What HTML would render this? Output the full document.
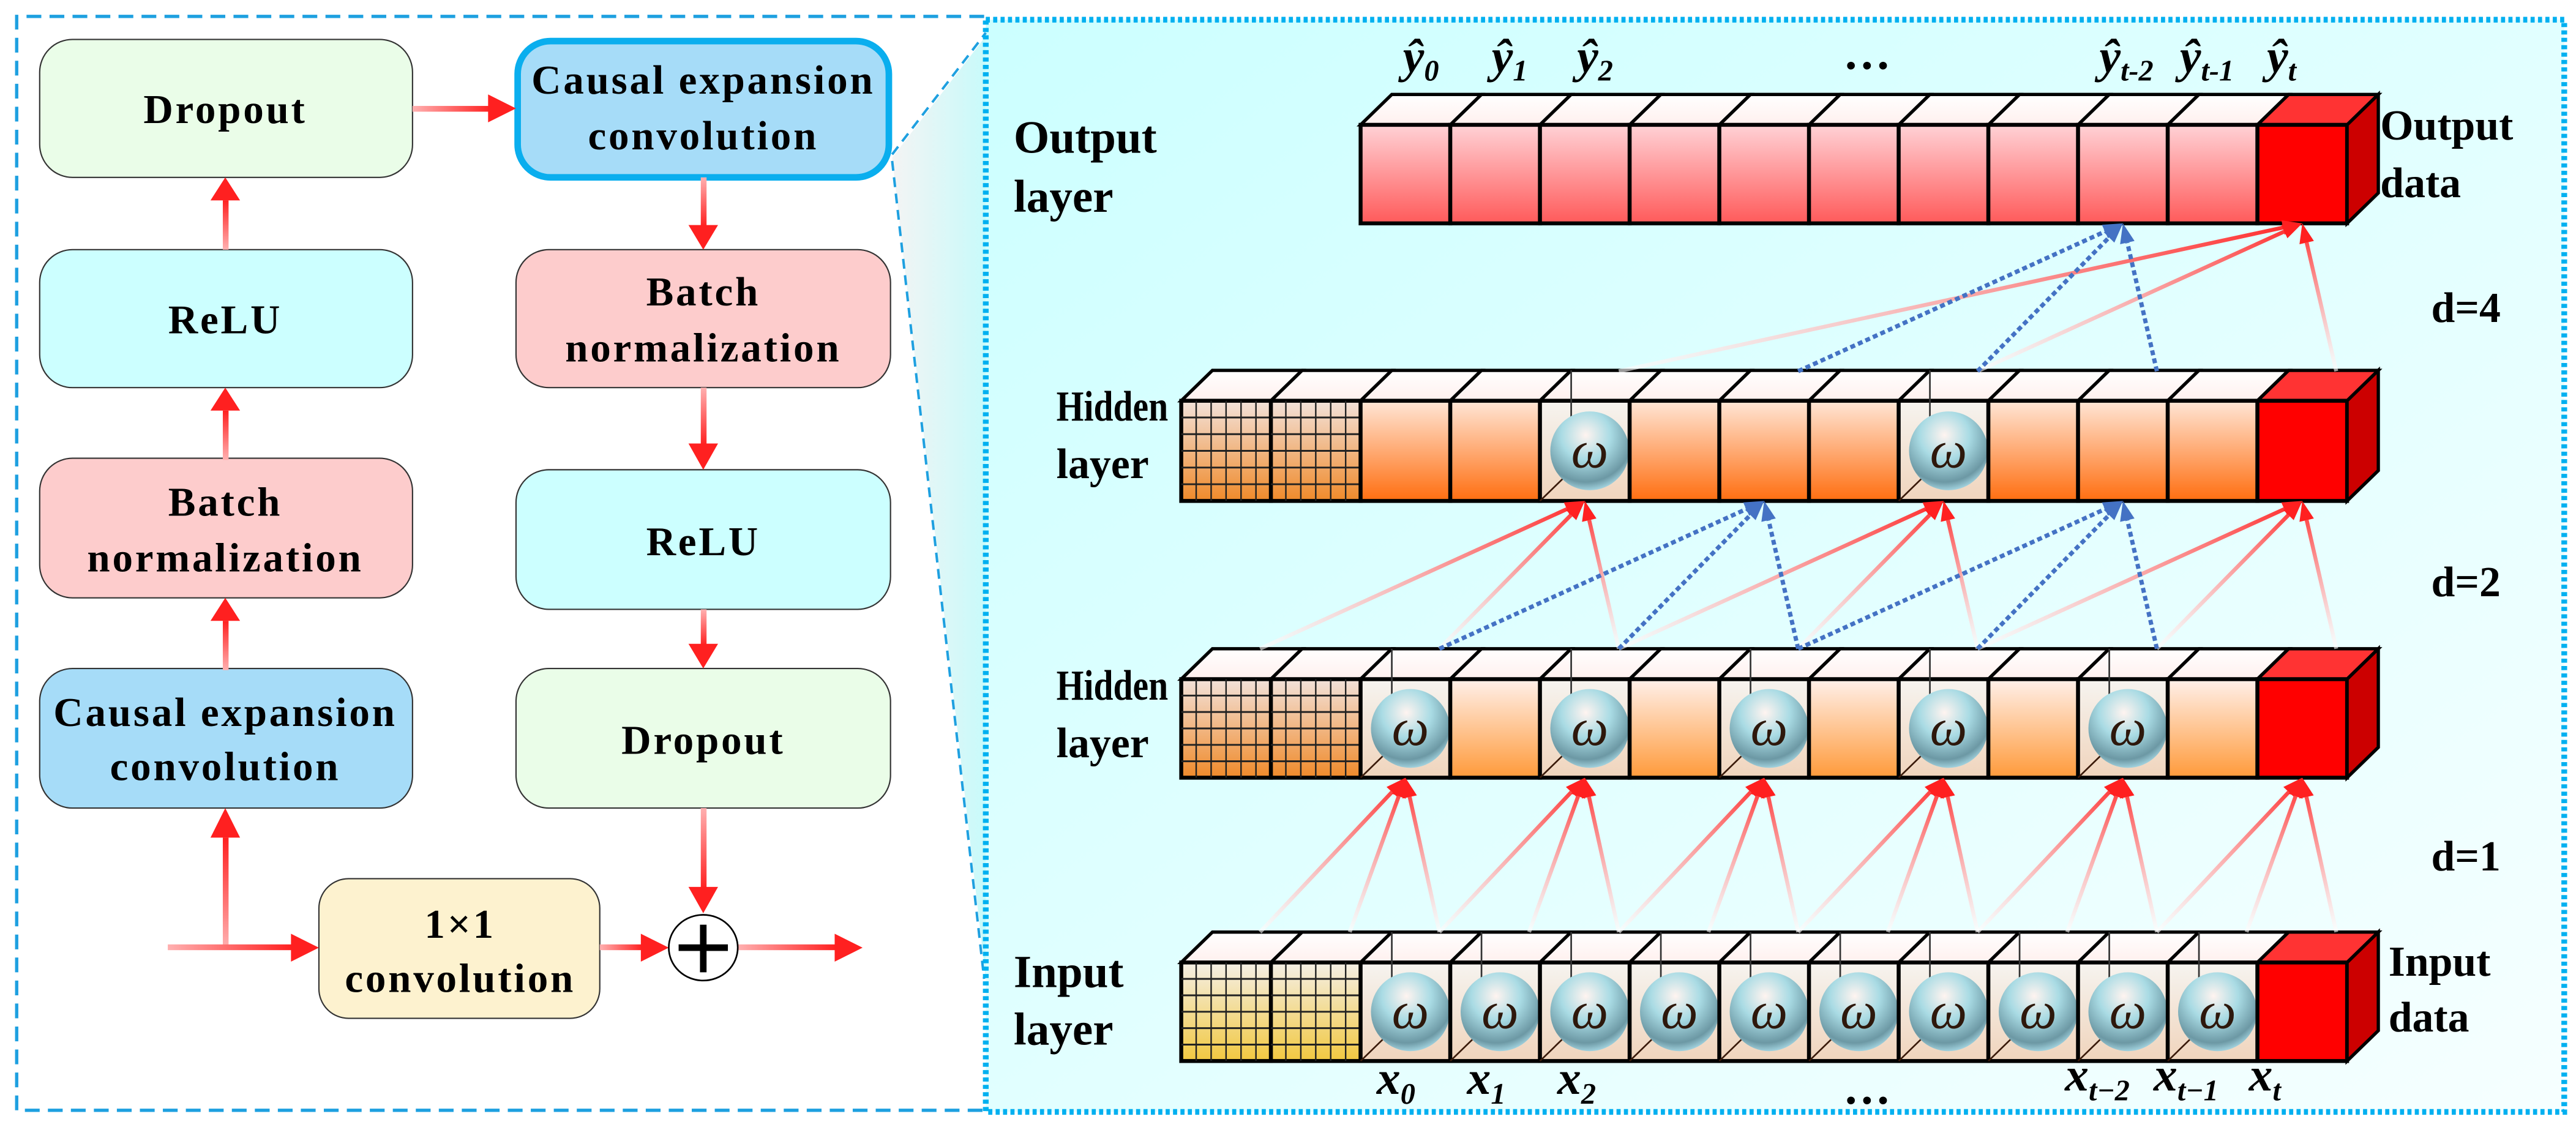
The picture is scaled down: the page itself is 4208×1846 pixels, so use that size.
<!DOCTYPE html>
<html><head><meta charset="utf-8"><style>
html,body{margin:0;padding:0;background:#fff;}
svg{display:block;}
.bx{font-family:"Liberation Serif",serif;font-weight:bold;font-size:25px;letter-spacing:1.4px;text-anchor:middle;fill:#000;}
.lb{font-family:"Liberation Serif",serif;font-weight:bold;font-size:26px;fill:#000;}
.mt{font-family:"Liberation Serif",serif;font-weight:bold;font-style:italic;font-size:29px;fill:#000;}
.sb{font-family:"Liberation Serif",serif;font-weight:bold;font-style:italic;font-size:18px;}
</style></head><body>
<svg id="s" width="4208" height="1846" viewBox="0 0 1568 688" xmlns="http://www.w3.org/2000/svg">
<defs>
<linearGradient id="rbg" x1="0" y1="0" x2="1" y2="1"><stop offset="0" stop-color="#ccffff"/><stop offset="1" stop-color="#f6ffff"/></linearGradient>
<linearGradient id="cone" x1="0" y1="0" x2="1" y2="0"><stop offset="0" stop-color="#f4f4f4"/><stop offset="1" stop-color="#c8fafa"/></linearGradient>
<linearGradient id="gOut" x1="0" y1="0" x2="0" y2="1"><stop offset="0" stop-color="#ffd2d6"/><stop offset="1" stop-color="#ff5a5a"/></linearGradient>
<linearGradient id="gH1" x1="0" y1="0" x2="0" y2="1"><stop offset="0" stop-color="#ffe6d6"/><stop offset="1" stop-color="#ff6e10"/></linearGradient>
<linearGradient id="gH2" x1="0" y1="0" x2="0" y2="1"><stop offset="0" stop-color="#fff0ea"/><stop offset="1" stop-color="#ff9a3a"/></linearGradient>
<linearGradient id="gIn" x1="0" y1="0" x2="0" y2="1"><stop offset="0" stop-color="#f6f4f0"/><stop offset="1" stop-color="#f0d4bc"/></linearGradient>
<linearGradient id="gGH" x1="0" y1="0" x2="0" y2="1"><stop offset="0" stop-color="#f2e2da"/><stop offset="1" stop-color="#f08a2a"/></linearGradient>
<linearGradient id="gGI" x1="0" y1="0" x2="0" y2="1"><stop offset="0" stop-color="#f4efe6"/><stop offset="1" stop-color="#f2c840"/></linearGradient>
<linearGradient id="gTop" x1="0" y1="0" x2="0" y2="1"><stop offset="0" stop-color="#ffffff"/><stop offset="1" stop-color="#fff0ee"/></linearGradient>
<radialGradient id="sph" cx="0.45" cy="0.3" r="0.7"><stop offset="0" stop-color="#fff4f0"/><stop offset="0.45" stop-color="#a9dbe4"/><stop offset="0.85" stop-color="#6c98a4"/><stop offset="1" stop-color="#a0d0dc"/></radialGradient>
<linearGradient id="ah" x1="0" y1="0" x2="1" y2="0"><stop offset="0" stop-color="#ffb0b0"/><stop offset="1" stop-color="#ff2020"/></linearGradient>
<linearGradient id="av" x1="0" y1="1" x2="0" y2="0"><stop offset="0" stop-color="#ffb0b0"/><stop offset="1" stop-color="#ff2020"/></linearGradient>
<linearGradient id="avd" x1="0" y1="0" x2="0" y2="1"><stop offset="0" stop-color="#ffb0b0"/><stop offset="1" stop-color="#ff2020"/></linearGradient>
</defs>
<rect width="1568" height="688" fill="#fff"/>
<rect x="600" y="12" width="961" height="665" fill="url(#rbg)"/>
<polygon points="543,96 600,22 600,596" fill="url(#cone)"/>
<line x1="543" y1="94" x2="600" y2="20" stroke="#1ea0e0" stroke-width="1.5" stroke-dasharray="6,4"/>
<line x1="543" y1="98" x2="599" y2="596" stroke="#1ea0e0" stroke-width="1.5" stroke-dasharray="6,4"/>
<path d="M599,10 H10 V676 H599" fill="none" stroke="#1ea0e0" stroke-width="2" stroke-dasharray="9,5"/>
<rect x="600" y="12" width="961" height="665" fill="none" stroke="#00b0f0" stroke-width="3.5" stroke-dasharray="2.5,2"/>

<g stroke="#333" stroke-width="0.8">
<rect x="24" y="24" width="227" height="84" rx="20" fill="#eafde8"/>
<rect x="24" y="152" width="227" height="84" rx="20" fill="#ccffff"/>
<rect x="24" y="279" width="227" height="85" rx="20" fill="#fdcccc"/>
<rect x="24" y="407" width="227" height="85" rx="20" fill="#a6dcf8"/>
<rect x="314" y="152" width="228" height="84" rx="20" fill="#fdcccc"/>
<rect x="314" y="286" width="228" height="85" rx="20" fill="#ccffff"/>
<rect x="314" y="407" width="228" height="85" rx="20" fill="#eafde8"/>
<rect x="194" y="535" width="171" height="85" rx="18" fill="#fdf2cf"/>
</g>
<rect x="315" y="25" width="226" height="83" rx="20" fill="#a6dcf8" stroke="#0aaeee" stroke-width="4"/>
<text class="bx" x="137" y="75">Dropout</text>
<text class="bx" x="137" y="203">ReLU</text>
<text class="bx" x="137" y="314">Batch</text>
<text class="bx" x="137" y="348">normalization</text>
<text class="bx" x="137" y="442">Causal expansion</text>
<text class="bx" x="137" y="475">convolution</text>
<text class="bx" x="428" y="57">Causal expansion</text>
<text class="bx" x="428" y="91">convolution</text>
<text class="bx" x="428" y="186">Batch</text>
<text class="bx" x="428" y="220">normalization</text>
<text class="bx" x="428" y="338">ReLU</text>
<text class="bx" x="428" y="459">Dropout</text>
<text class="bx" x="280" y="571">1×1</text>
<text class="bx" x="280" y="604">convolution</text>
<g>
<rect x="135.5" y="122" width="3.5" height="30" fill="url(#av)"/><polygon points="137,108 128,122 146,122" fill="#ff2020"/>
<rect x="135.5" y="250" width="3.5" height="30" fill="url(#av)"/><polygon points="137,236 128,250 146,250" fill="#ff2020"/>
<rect x="135.5" y="378" width="3.5" height="30" fill="url(#av)"/><polygon points="137,364 128,378 146,378" fill="#ff2020"/>
<rect x="135.5" y="510" width="3.5" height="67" fill="url(#av)"/><polygon points="137,492 128,510 146,510" fill="#ff2020"/>
<rect x="102" y="575" width="76" height="3.5" fill="url(#ah)"/><polygon points="194,577 177,568.5 177,585.5" fill="#ff2020"/>
<rect x="251" y="64.5" width="48" height="3.5" fill="url(#ah)"/><polygon points="314,66 297,57.5 297,74.5" fill="#ff2020"/>
<rect x="426.5" y="108" width="3.5" height="30" fill="url(#avd)"/><polygon points="428,152 419,137 437,137" fill="#ff2020"/>
<rect x="426.5" y="236" width="3.5" height="35" fill="url(#avd)"/><polygon points="428,286 419,270 437,270" fill="#ff2020"/>
<rect x="426.5" y="371" width="3.5" height="22" fill="url(#avd)"/><polygon points="428,407 419,392 437,392" fill="#ff2020"/>
<rect x="426.5" y="492" width="3.5" height="50" fill="url(#avd)"/><polygon points="428,556 419,540 437,540" fill="#ff2020"/>
<rect x="365" y="575" width="26" height="3.5" fill="url(#ah)"/><polygon points="407,577 390,568.5 390,585.5" fill="#ff2020"/>
<rect x="449" y="575" width="60" height="3.5" fill="url(#ah)"/><polygon points="525,577 508,568.5 508,585.5" fill="#ff2020"/>
</g>
<ellipse cx="428" cy="577" rx="21" ry="20" fill="#fff" stroke="#000" stroke-width="1"/>
<path d="M428,563 V592 M413,577 H443" stroke="#000" stroke-width="4"/>

<g id="net"></g>

<text class="lb" x="617" y="93" style="font-size:28px">Output</text>
<text class="lb" x="617" y="129" style="font-size:28px">layer</text>
<text class="lb" x="643" y="256" textLength="68" lengthAdjust="spacingAndGlyphs">Hidden</text>
<text class="lb" x="643" y="291">layer</text>
<text class="lb" x="643" y="426" textLength="68" lengthAdjust="spacingAndGlyphs">Hidden</text>
<text class="lb" x="643" y="461">layer</text>
<text class="lb" x="617" y="601" style="font-size:28px">Input</text>
<text class="lb" x="617" y="636" style="font-size:28px">layer</text>
<text class="lb" x="1449" y="85">Output</text>
<text class="lb" x="1449" y="120">data</text>
<text class="lb" x="1454" y="594">Input</text>
<text class="lb" x="1454" y="628">data</text>
<text class="lb" x="1480" y="196">d=4</text>
<text class="lb" x="1480" y="363">d=2</text>
<text class="lb" x="1480" y="530">d=1</text>
<g class="mt">
<text x="854" y="44">ŷ<tspan class="sb" dy="5">0</tspan></text>
<text x="908" y="44">ŷ<tspan class="sb" dy="5">1</tspan></text>
<text x="960" y="44">ŷ<tspan class="sb" dy="5">2</tspan></text>
<text x="1122" y="42" style="font-style:normal">…</text>
<text x="1278" y="44">ŷ<tspan class="sb" dy="5">t-2</tspan></text>
<text x="1327" y="44">ŷ<tspan class="sb" dy="5">t-1</tspan></text>
<text x="1380" y="44">ŷ<tspan class="sb" dy="5">t</tspan></text>
<text x="838" y="666">x<tspan class="sb" dy="6">0</tspan></text>
<text x="893" y="666">x<tspan class="sb" dy="6">1</tspan></text>
<text x="948" y="666">x<tspan class="sb" dy="6">2</tspan></text>
<text x="1122" y="672" style="font-style:normal">…</text>
<text x="1257" y="664">x<tspan class="sb" dy="6">t−2</tspan></text>
<text x="1311" y="664">x<tspan class="sb" dy="6">t−1</tspan></text>
<text x="1369" y="664">x<tspan class="sb" dy="6">t</tspan></text>
</g>
</svg>
<script>
(function(){
var X0=719,W=54.6,DX=19,DY=18.5,gid=0;
function L(k){return X0+W*k;}
function cell(k,F,H,type,row){
 var x=L(k),s='';
 var top=(type=='red')?'#ff3333':'url(#gTop)';
 s+='<polygon points="'+x+','+F+' '+(x+DX)+','+(F-DY)+' '+(x+W+DX)+','+(F-DY)+' '+(x+W)+','+F+'" fill="'+top+'" stroke="#000" stroke-width="2"/>';
 var fill;
 if(type=='red')fill='#ff0000';
 else if(type=='grid')fill=(row=='in')?'url(#gGI)':'url(#gGH)';
 else if(type=='om')fill='url(#gIn)';
 else fill=(row=='out')?'url(#gOut)':(row=='h1')?'url(#gH1)':(row=='h2')?'url(#gH2)':'url(#gIn)';
 s+='<rect x="'+x+'" y="'+F+'" width="'+W+'" height="'+H+'" fill="'+fill+'" stroke="#000" stroke-width="2.4"/>';
 if(type=='grid'){
  for(var i=1;i<6;i++){s+='<line x1="'+(x+W*i/6)+'" y1="'+F+'" x2="'+(x+W*i/6)+'" y2="'+(F+H)+'" stroke="#222" stroke-width="0.9"/>';
   s+='<line x1="'+x+'" y1="'+(F+H*i/6)+'" x2="'+(x+W)+'" y2="'+(F+H*i/6)+'" stroke="#222" stroke-width="1.1"/>';}
 }
 if(type=='om'){
  s+='<line x1="'+(x+DX)+'" y1="'+(F-DY)+'" x2="'+(x+DX)+'" y2="'+(F+H-DY)+'" stroke="#333" stroke-width="1"/>';
  s+='<line x1="'+x+'" y1="'+(F+H)+'" x2="'+(x+DX)+'" y2="'+(F+H-DY)+'" stroke="#3a1a0a" stroke-width="1"/>';
  s+='<circle cx="'+(x+W/2+3)+'" cy="'+(F+H/2)+'" r="24" fill="url(#sph)"/>';
  s+='<text x="'+(x+W/2+3)+'" y="'+(F+H/2+10)+'" text-anchor="middle" style="font-family:\'Liberation Serif\',serif;font-style:italic;font-size:32px;fill:#2e180c">ω</text>';
 }
 if(type=='red'){
  s+='<polygon points="'+(x+W)+','+F+' '+(x+W+DX)+','+(F-DY)+' '+(x+W+DX)+','+(F+H-DY)+' '+(x+W)+','+(F+H)+'" fill="#cc0000" stroke="#000" stroke-width="2"/>';
 }
 return s;
}
function row(F,H,name,from,oms,grid){
 var s='';
 for(var k=from;k<=12;k++){
  var t='plain';
  if(k==12)t='red';else if(grid&&k<2)t='grid';else if(oms.indexOf(k)>=0)t='om';
  s+=cell(k,F,H,t,name);
 }
 return s;
}
function line(x1,y1,x2,y2,col,dash){
 var id='lg'+(gid++);
 var s='<linearGradient id="'+id+'" gradientUnits="userSpaceOnUse" x1="'+x1+'" y1="'+y1+'" x2="'+x2+'" y2="'+y2+'"><stop offset="0" stop-color="'+(col=='b'?'#4472c4':'#ffffff')+'" stop-opacity="'+(col=='b'?1:0.6)+'"/><stop offset="1" stop-color="'+(col=='b'?'#4472c4':'#ff2828')+'"/></linearGradient>';
 var dx=x2-x1,dy=y2-y1,len=Math.sqrt(dx*dx+dy*dy),ux=dx/len,uy=dy/len;
 var ex=x2-ux*12,ey=y2-uy*12;
 s+='<line x1="'+x1+'" y1="'+y1+'" x2="'+ex+'" y2="'+ey+'" stroke="url(#'+id+')" stroke-width="'+(col=='b'?2.6:2.4)+'"'+(dash?' stroke-dasharray="3,2"':'')+'/>';
 var px=-uy,py=ux,c=(col=='b'?'#4472c4':'#ff2020');
 s+='<polygon points="'+x2+','+y2+' '+(ex+px*4.5)+','+(ey+py*4.5)+' '+(ex-px*4.5)+','+(ey-py*4.5)+'" fill="'+c+'"/>';
 return s;
}
var lines='';
[2,4,6,8,10,12].forEach(function(t){[t-2,t-1,t].forEach(function(k){lines+=line(L(k)+48,567.5,L(t)+W/2,473.5,'r');});});
[4,8,12].forEach(function(t){[t-4,t-2,t].forEach(function(k){lines+=line(L(k)+48,395,L(t)+W/2,305,'r');});});
[6,10].forEach(function(t){[t-4,t-2,t].forEach(function(k){lines+=line(L(k)+48,395,L(t)+W/2,305,'b',true);});});
[4,8,12].forEach(function(k){lines+=line(L(k)+48,226,L(12)+W/2,136,'r');});
[6,8,10].forEach(function(k){lines+=line(L(k)+48,226,L(10)+W/2,136,'b',true);});
var s='';
s+=row(76,60,'out',2,[],false);
s+=row(244,61,'h1',0,[4,8],true);
s+=row(413.5,60,'h2',0,[2,4,6,8,10],true);
s+=row(586,60,'in',0,[2,3,4,5,6,7,8,9,10,11],true);
s+=lines;
document.getElementById('net').innerHTML=s;
})();
</script>
</body></html>
